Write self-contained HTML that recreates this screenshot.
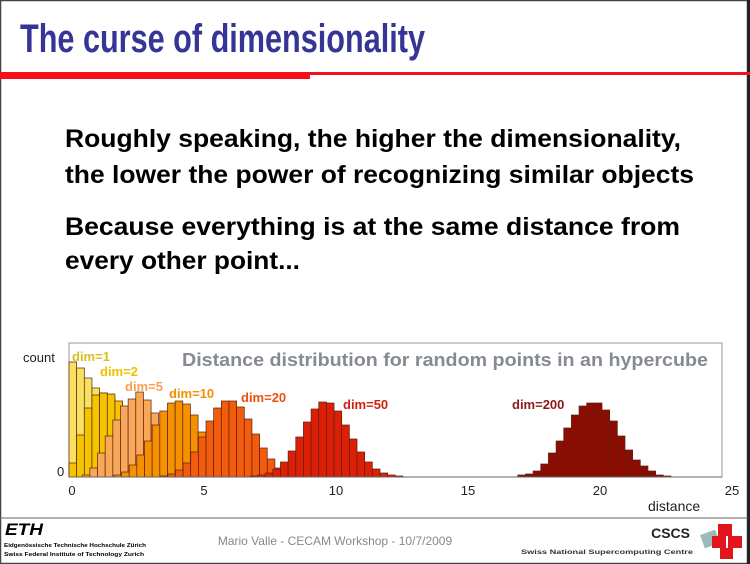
<!DOCTYPE html>
<html><head><meta charset="utf-8"><style>
html,body{margin:0;padding:0;background:#fff;}
svg{display:block;font-family:"Liberation Sans",sans-serif;}
</style></head><body>
<svg id="slide" width="750" height="564" viewBox="0 0 750 564" xmlns="http://www.w3.org/2000/svg">
<rect x="0.5" y="0.5" width="747" height="563" fill="#fff" stroke="#444" stroke-width="1.5"/>
<rect x="747" y="0" width="3" height="564" fill="#222"/>
<text x="20" y="52" font-size="40" font-weight="bold" fill="#353596" textLength="405" lengthAdjust="spacingAndGlyphs">The curse of dimensionality</text>
<rect x="0" y="72" width="750" height="3" fill="#f5101a"/>
<rect x="0" y="72" width="310" height="7" fill="#f5101a"/>
<g font-size="25" font-weight="bold" fill="#000">
<text x="65" y="147" textLength="616" lengthAdjust="spacingAndGlyphs">Roughly speaking, the higher the dimensionality,</text>
<text x="65" y="183" textLength="629" lengthAdjust="spacingAndGlyphs">the lower the power of recognizing similar objects</text>
<text x="65" y="235" textLength="615" lengthAdjust="spacingAndGlyphs">Because everything is at the same distance from</text>
<text x="65" y="269" textLength="235" lengthAdjust="spacingAndGlyphs">every other point...</text>
</g>
<g id="chart"></g>
<line x1="0" y1="518" x2="748" y2="518" stroke="#666" stroke-width="1"/>
<text x="5" y="535" font-size="17" font-weight="bold" font-style="italic" fill="#000" textLength="38" lengthAdjust="spacingAndGlyphs">ETH</text>
<text x="4" y="547" font-size="5.5" font-weight="bold" fill="#000" textLength="142" lengthAdjust="spacingAndGlyphs">Eidgenössische Technische Hochschule Zürich</text>
<text x="4" y="556" font-size="5.5" font-weight="bold" fill="#000" textLength="140" lengthAdjust="spacingAndGlyphs">Swiss Federal Institute of Technology Zurich</text>
<text x="335" y="545" font-size="12" fill="#888" text-anchor="middle">Mario Valle - CECAM Workshop - 10/7/2009</text>
<text x="690" y="538" font-size="14" font-weight="bold" fill="#222" text-anchor="end">CSCS</text>
<text x="693" y="554" font-size="6" font-weight="bold" fill="#333" text-anchor="end" textLength="172" lengthAdjust="spacingAndGlyphs">Swiss National Supercomputing Centre</text>
<g>
<rect x="702" y="532" width="16" height="14" fill="#9bb" transform="rotate(-20 710 539)"/>
<rect x="718" y="524" width="14" height="12" fill="#e2141c"/>
<rect x="712" y="536" width="14" height="12" fill="#e2141c"/>
<rect x="728" y="536" width="14" height="12" fill="#e2141c"/>
<rect x="720" y="548" width="13" height="11" fill="#e2141c"/>
</g>
</svg>
<script>
const binWidth = 0.29;
const seriesNames = ["dim=1","dim=2","dim=5","dim=10","dim=20","dim=50","dim=200"];
const seriesStarts = [0, 0, 0.5, 1.7, 3.45, 6.85, 17.0];
const dim1Counts = [115,109,99,89,84,79,74,68,62,56,49,42,35,28,21,14,8,3];
const dim2Counts = [14,42,69,82,84,83,76,62,49,37,24,14,7,2];
const dim5Counts = [2,9,24,41,57,71,78,85,77,64,47,31,17,7,2];
const dim10Counts = [2,5,12,22,36,52,66,74,76,73,62,45,30,17,8,3,1];
const dim20Counts = [1,3,7,14,25,40,56,69,76,76,70,58,43,29,18,9,4,1];
const dim50Counts = [1,2,4,8,15,26,40,55,68,75,74,66,52,38,25,15,8,4,2,1];
const dim200Counts = [2,3,6,13,24,36,49,62,71,74,74,67,56,41,27,17,11,6,2,1];
const seriesCounts = [dim1Counts,dim2Counts,dim5Counts,dim10Counts,dim20Counts,dim50Counts,dim200Counts];
const xTicks = [0,5,10,15,20,25];
const xTickLabels = ["0","5","10","15","20","25"];

const fills = ["#f8e060","#f5c400","#f8a858","#f59000","#f25c0c","#dc2008","#8c0c02"];
const labelColors = ["#d8c020","#f0c000","#f6a050","#f09000","#e85010","#d02010","#8b1a1a"];
const labelPos = [[72,361],[100,376],[125,391],[169,398],[241,402],[343,409],[512,409]];
const NS = "http://www.w3.org/2000/svg";
const chart = document.getElementById("chart");
const X0 = 69, XS = 26.4, Y0 = 477, YS = 1.0;
const xScale = v => X0 + v * XS;
const yScale = c => Y0 - c * YS;
function mk(tag, attrs, parent) {
  const e = document.createElementNS(NS, tag);
  for (const k in attrs) e.setAttribute(k, attrs[k]);
  (parent || chart).appendChild(e);
  return e;
}
const frame = mk("rect", {x:69, y:343, width:653, height:134, fill:"#fff", stroke:"#999", "stroke-width":1});


seriesCounts.forEach((counts, si) => {
  const g = mk("g", {});
  
  
  counts.forEach((c, i) => {
    const x = xScale(seriesStarts[si] + i * binWidth);
    const w = xScale(seriesStarts[si] + (i + 1) * binWidth) - x;
    const r = mk("rect", {x:x, y:yScale(c), width:w, height:Y0 - yScale(c), fill:fills[si], stroke:"#5a2010", "stroke-width":0.7}, g);
    
    
  });
});
mk("line", {x1:69, y1:Y0, x2:722, y2:Y0, stroke:"#666", "stroke-width":1});
xTicks.forEach((t, i) => {
  const tx = mk("text", {x:xScale(t) + 3, y:495, "font-size":13, fill:"#222", "text-anchor":"middle"});
  tx.textContent = xTickLabels[i];
  
  
});
seriesNames.forEach((n, i) => {
  const t = mk("text", {x:labelPos[i][0], y:labelPos[i][1], "font-size":13, "font-weight":"bold", fill:labelColors[i]});
  t.textContent = n;
  
  
});
const ttl = mk("text", {x:182, y:366, "font-size":18, "font-weight":"bold", fill:"#858a94", textLength:526, lengthAdjust:"spacingAndGlyphs"});
ttl.textContent = "Distance distribution for random points in an hypercube";


const yl = mk("text", {x:23, y:362, "font-size":13, fill:"#222"});
yl.textContent = "count";


const y0 = mk("text", {x:57, y:476, "font-size":13, fill:"#222"});
y0.textContent = "0";


const xl = mk("text", {x:648, y:511, "font-size":14, fill:"#222"});
xl.textContent = "distance";


</script>
</body></html>
